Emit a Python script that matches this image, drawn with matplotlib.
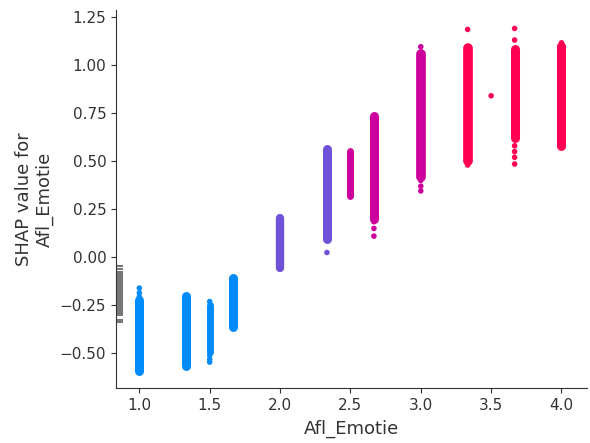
import matplotlib
matplotlib.use("Agg")
import matplotlib.pyplot as plt

# feature levels of Afl_Emotie and the dense band of SHAP values at each level
levels = [1.0, 1.333, 1.5, 1.667, 2.0, 2.333, 2.5, 2.667, 3.0, 3.333, 3.667, 4.0]
band_lo = [-0.59, -0.565, -0.49, -0.365, -0.055, 0.095, 0.32, 0.20, 0.42, 0.50, 0.62, 0.58]
band_hi = [-0.22, -0.20, -0.25, -0.11, 0.205, 0.565, 0.555, 0.735, 1.055, 1.09, 1.085, 1.10]
band_w = [6.5, 6.5, 5.0, 6.5, 6.0, 6.5, 5.0, 6.5, 7.0, 7.0, 6.5, 6.5]
band_col = ["#008bfb", "#008bfb", "#008bfb", "#008bfb", "#7052d8", "#7052d8",
            "#cc009c", "#cc009c", "#cc009c", "#ff0052", "#ff0052", "#ff0052"]

# single points outside the bands
out_x = [1.0, 1.0, 1.0, 1.5, 1.5, 1.5, 1.5, 2.333, 2.667, 2.667, 2.667,
         3.0, 3.0, 3.0, 3.0, 3.333, 3.333, 3.5, 3.667, 3.667, 3.667, 3.667, 3.667, 3.667, 4.0]
out_y = [-0.16, -0.185, -0.205, -0.23, -0.51, -0.53, -0.545, 0.025, 0.185, 0.15, 0.11,
         1.095, 0.40, 0.37, 0.345, 1.185, 0.48, 0.84, 1.19, 1.13, 0.58, 0.55, 0.52, 0.485, 1.115]
out_col = ["#008bfb"] * 7 + ["#7052d8"] + ["#cc009c"] * 7 + ["#ff0052"] * 10

# missing values (drawn grey to the left of the axis range)
nan_x = 0.858
nan_lo, nan_hi = -0.305, -0.072
nan_ticks = [-0.047, -0.062, -0.326, -0.336]

fig = plt.figure(figsize=(5.9, 4.43), dpi=100)
ax = fig.add_axes([0.1966, 0.124, 0.798, 0.853])

ax.plot([nan_x, nan_x], [nan_lo, nan_hi], color="#777777", lw=5.8,
        solid_capstyle="butt")
ax.scatter([nan_x] * len(nan_ticks), nan_ticks, marker="_", s=40,
           color="#777777", linewidth=1.5)

for x, lo, hi, w, c in zip(levels, band_lo, band_hi, band_w, band_col):
    ax.plot([x, x], [lo, hi], color=c, lw=w, solid_capstyle="round")

ax.scatter(out_x, out_y, s=16, color=out_col, linewidth=0)

ax.set_xlim(0.834, 4.18)
ax.set_ylim(-0.68, 1.285)
ax.set_xticks([1.0, 1.5, 2.0, 2.5, 3.0, 3.5, 4.0])
ax.set_yticks([-0.5, -0.25, 0.0, 0.25, 0.5, 0.75, 1.0, 1.25])

ax.spines["top"].set_visible(False)
ax.spines["right"].set_visible(False)
ax.spines["left"].set_color("#333333")
ax.spines["bottom"].set_color("#333333")
ax.tick_params(color="#333333", labelcolor="#333333", labelsize=11)

ax.set_xlabel("Afl_Emotie", fontsize=13, color="#333333", labelpad=5)
ax.set_ylabel("SHAP value for\nAfl_Emotie", fontsize=13, color="#333333")

fig.savefig("out.png", dpi=100)
